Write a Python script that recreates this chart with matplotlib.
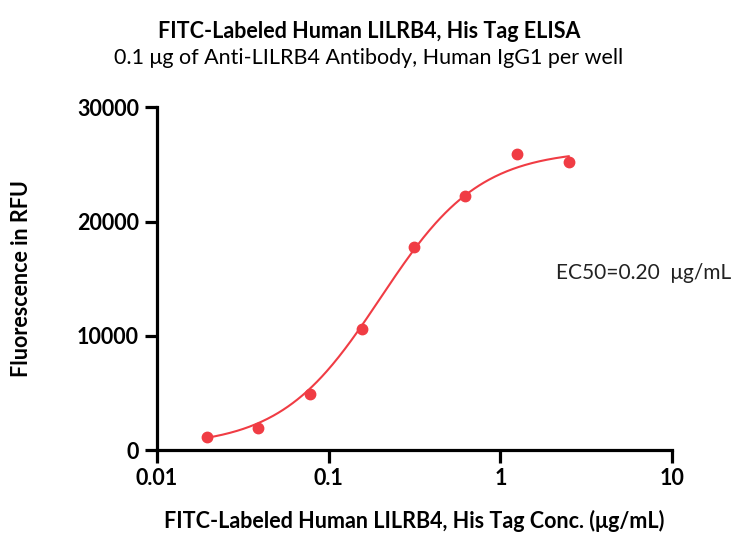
import numpy as np
import matplotlib
matplotlib.use("Agg")
import matplotlib.pyplot as plt
from matplotlib.ticker import FixedLocator, NullLocator

# Measured points
conc = [0.0195, 0.039, 0.078, 0.156, 0.3125, 0.625, 1.25, 2.5]
rfu = [1100, 1950, 4900, 10600, 17800, 22200, 25900, 25200]

# 4PL fit parameters
bottom, top, ec50, hill = 300, 26300, 0.20, 1.5

x_ticks = [0.01, 0.1, 1, 10]
x_tick_labels = ["0.01", "0.1", "1", "10"]
y_ticks = [0, 10000, 20000, 30000]

red = "#f03c44"
plt.rcParams['font.family'] = ['Lato', 'DejaVu Sans']
fs = 15.5

fig = plt.figure(figsize=(7.38, 5.37), dpi=100)
ax = fig.add_axes([0.2127, 0.162, 0.698, 0.638])

xs = np.logspace(np.log10(conc[0]), np.log10(conc[-1]), 300)
ys = bottom + (top - bottom) / (1 + (ec50 / xs) ** hill)
ax.plot(xs, ys, color=red, lw=1.5, zorder=2)
ax.plot(conc, rfu, 'o', color=red, ms=7.5, zorder=3, clip_on=False)

ax.set_xscale('log')
ax.set_xlim(0.01, 10)
ax.set_ylim(0, 30000)
ax.xaxis.set_major_locator(FixedLocator(x_ticks))
ax.xaxis.set_minor_locator(NullLocator())
ax.set_xticklabels(x_tick_labels)
ax.set_yticks(y_ticks)

for s in ['top', 'right']:
    ax.spines[s].set_visible(False)
for s in ['left', 'bottom']:
    ax.spines[s].set_linewidth(2.3)
ax.tick_params(width=2.3, length=9, labelsize=15.5, pad=4)
for lab in ax.get_xticklabels() + ax.get_yticklabels():
    lab.set_fontweight('bold')

ax.set_xlabel("FITC-Labeled Human LILRB4, His Tag Conc. (\u03bcg/mL)",
              fontsize=fs, fontweight='bold')
ax.set_ylabel("Fluorescence in RFU", fontsize=fs, fontweight='bold')
ax.xaxis.set_label_coords(0.5, -0.175)
ax.yaxis.set_label_coords(-0.243, 0.5)

fig.text(0.5, 0.942, "FITC-Labeled Human LILRB4, His Tag ELISA",
         ha='center', va='center', fontsize=fs, fontweight='bold')
fig.text(0.5, 0.892, "0.1 \u03bcg of Anti-LILRB4 Antibody, Human IgG1 per well",
         ha='center', va='center', fontsize=fs)
ax.text(0.775, 0.516, "EC50=0.20  \u03bcg/mL", transform=ax.transAxes,
        ha='left', va='center', fontsize=15, color='#222222')

fig.savefig("out.png", dpi=100, facecolor='white')
